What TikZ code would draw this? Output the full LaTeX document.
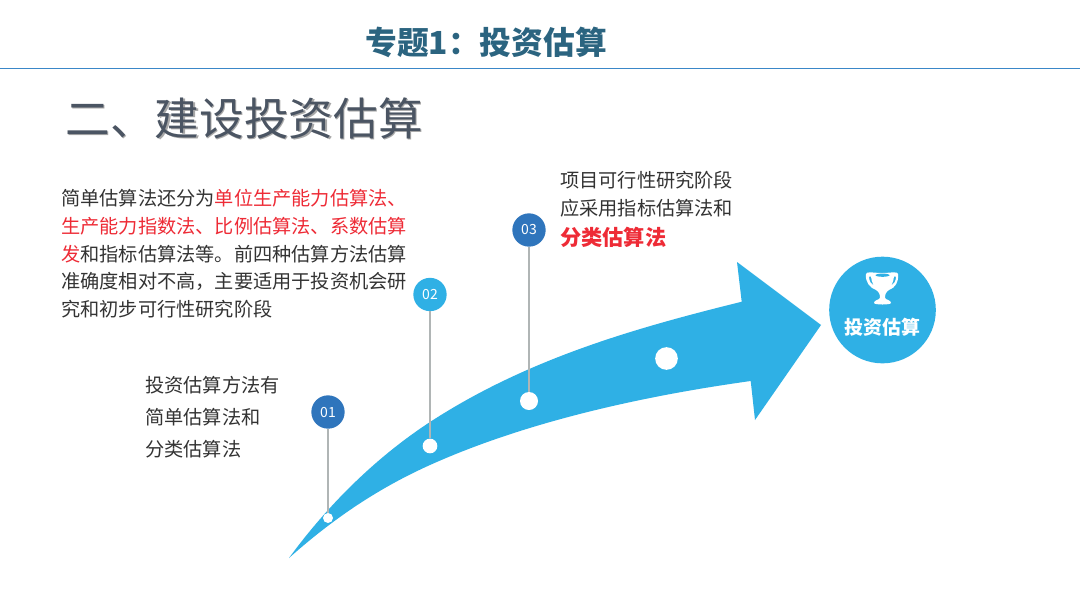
\documentclass[tikz,border=0pt]{standalone}
\usepackage{fontspec}
\setmainfont{Noto Sans CJK SC}
\definecolor{arrowblue}{HTML}{2FB0E5}
\definecolor{darkblue}{HTML}{2F75BC}
\definecolor{titleblue}{HTML}{2B6480}
\definecolor{ruleblue}{HTML}{3A87C8}
\definecolor{headgray}{HTML}{4B5563}
\definecolor{shadowgray}{HTML}{A8A8A8}
\definecolor{bodytext}{HTML}{333333}
\definecolor{redtext}{HTML}{EE2B36}
\definecolor{stemgray}{HTML}{B0B5B5}
\tikzset{
  x=0.75pt,y=-0.75pt,
  bodyline/.style={anchor=west,inner sep=0pt,text=bodytext,font=\fontsize{14.4}{16}\selectfont},
  badge/.style={circle,inner sep=0pt,minimum size=25pt,text=white,font=\fontsize{10.5}{12}\selectfont},
  dot/.style={circle,fill=white,inner sep=0pt},
  stem/.style={draw=stemgray,line width=1.2pt},
  heading/.style={anchor=west,inner sep=0pt,font=\fontsize{33.5}{36}\selectfont}
}
\begin{document}
\begin{tikzpicture}
\useasboundingbox (0,0) rectangle (1080,604);
\fill[white] (0,0) rectangle (1080,604);
% title
\node[anchor=center,inner sep=0pt,text=titleblue,font=\bfseries\fontsize{23.8}{26}\selectfont] (title) at (486,42) {专题1：投资估算};
\coordinate (ruleL) at (0,68.5); \coordinate (ruleR) at (1080,68.5);
\draw[ruleblue,line width=1pt] (ruleL) -- (ruleR);
% heading
\node[heading,text=shadowgray] (headshadow) at (66.5,119.5) {二、建设投资估算};
\node[heading,text=headgray] (head) at (65.2,118) {二、建设投资估算};
% arrow
\fill[arrowblue] (289,558)
  .. controls (327,506) and (375,458) .. (430,422)
  .. controls (530,357) and (640,327) .. (741.7,301.7)
  -- (737,262) -- (821,325) -- (755,420) -- (750.7,381)
  .. controls (650,395) and (530,420) .. (430,465)
  .. controls (380,487.5) and (335,517) .. (289,558) -- cycle;
% dots
\node[dot,minimum size=7.5pt] (d1) at (328,518) {};
\node[dot,minimum size=11pt] (d2) at (430,446) {};
\node[dot,minimum size=13.5pt] (d3) at (529,401) {};
\node[dot,minimum size=17pt] (d4) at (666.5,358.5) {};
% badges
\node[badge,fill=darkblue] (b1) at (328,412) {01};
\node[badge,fill=arrowblue] (b2) at (430,294.5) {02};
\node[badge,fill=darkblue] (b3) at (529,230) {03};
\draw[stem] (b1) -- (d1);
\draw[stem] (b2) -- (d2);
\draw[stem] (b3) -- (d3);
% left paragraph
\node[bodyline] (p1) at (61,198) {简单估算法还分为\textcolor{redtext}{单位生产能力估算法、}};
\node[bodyline] (p2) at (61,226) {\textcolor{redtext}{生产能力指数法、比例估算法、系数估算}};
\node[bodyline] (p3) at (61,254) {\textcolor{redtext}{发}和指标估算法等。前四种估算方法估算};
\node[bodyline] (p4) at (61,281.5) {准确度相对不高，主要适用于投资机会研};
\node[bodyline] (p5) at (61,309) {究和初步可行性研究阶段};
% lower left
\node[bodyline] (q1) at (145,385) {投资估算方法有};
\node[bodyline] (q2) at (145,417) {简单估算法和};
\node[bodyline] (q3) at (145,449) {分类估算法};
% right
\node[bodyline] (r1) at (560,180) {项目可行性研究阶段};
\node[bodyline] (r2) at (560,208) {应采用指标估算法和};
\node[bodyline,text=redtext,font=\bfseries\fontsize{15.9}{18}\selectfont] (r3) at (560,237) {分类估算法};
% end circle
\node[circle,fill=arrowblue,inner sep=0pt,minimum size=80pt] (goal) at (882.5,310) {};
\node[inner sep=0pt,text=white,font=\bfseries\fontsize{14.2}{16}\selectfont] (goaltext) at (882.5,327) {投资估算};
% trophy
\fill[white,even odd rule]
  (866,274) .. controls (866,271) and (874,273) .. (882,273) .. controls (890,273) and (898,271) .. (898,274)
  .. controls (899,282) and (895,288) .. (889,290)
  .. controls (886,292) and (885,294) .. (885,298)
  .. controls (886,300) and (891,300) .. (891,303) .. controls (891,305) and (874,305) .. (874,303)
  .. controls (874,300) and (879,300) .. (880,298)
  .. controls (880,294) and (879,292) .. (876,290)
  .. controls (870,288) and (865,282) .. (866,274) -- cycle
  (869,276.5) .. controls (869,281) and (871,284) .. (874,286) .. controls (872,282) and (871,279) .. (871,276.5) -- cycle
  (896,276.5) .. controls (896,281) and (894,284) .. (891,286) .. controls (893,282) and (894,279) .. (894,276.5) -- cycle;
\fill[arrowblue] (882.5,275.2) ellipse [x radius=7, y radius=1.6];
\end{tikzpicture}
\end{document}
